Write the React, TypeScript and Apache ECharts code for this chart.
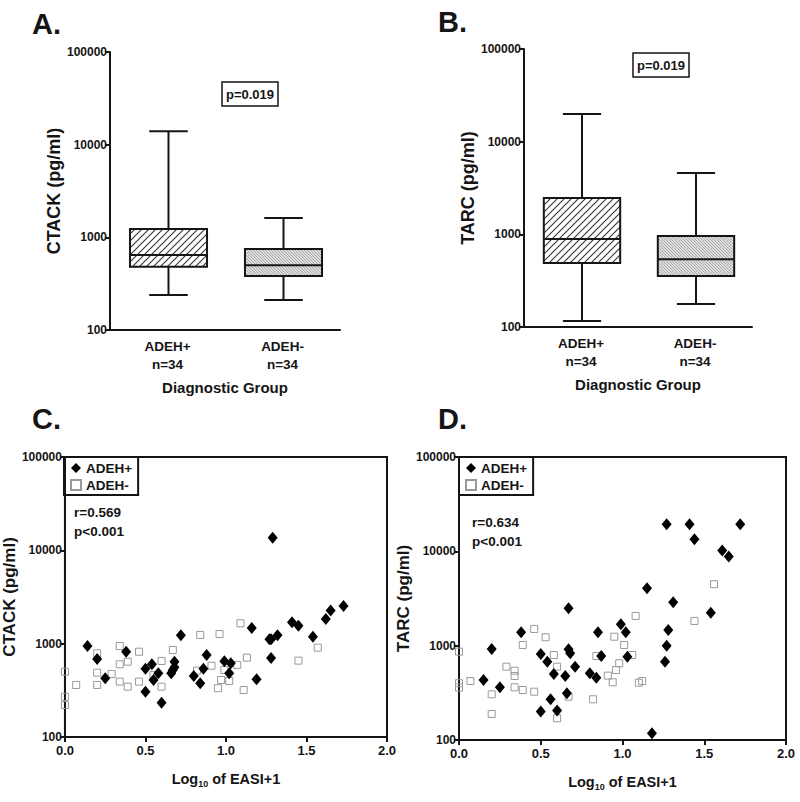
import React, { useEffect, useRef } from 'react';
import * as echarts from 'echarts';

const FONT = '"Liberation Sans", Arial, sans-serif';
const INK = '#151515';

// Box plot groups and values: [min, q1, median, q3, max]
const groups = ['ADEH+\nn=34', 'ADEH-\nn=34'];
const ctackBox = [
  [238, 480, 645, 1230, 14000],
  [211, 383, 500, 750, 1620],
];
const tarcBox = [
  [116, 490, 890, 2460, 19900],
  [177, 355, 540, 960, 4580],
];
const logTicks = [100, 1000, 10000, 100000];
const pText = 'p=0.019';

// Scatter: [log10(EASI+1), concentration pg/ml]
const ctackAdehPos = [
  [0.14, 944], [0.2, 686], [0.25, 426], [0.38, 820], [0.5, 540], [0.5, 306], [0.54, 601], [0.55, 408],
  [0.58, 482], [0.6, 233], [0.66, 482], [0.67, 522], [0.68, 641], [0.68, 560], [0.72, 1230], [0.8, 450],
  [0.84, 376], [0.86, 540], [0.88, 757], [0.99, 647], [1.02, 482], [1.03, 617], [1.16, 1473], [1.19, 415],
  [1.27, 1114], [1.28, 1114], [1.28, 703], [1.32, 1230], [1.29, 13680], [1.41, 1695], [1.45, 1560],
  [1.54, 1188], [1.62, 1840], [1.65, 2260], [1.73, 2535],
];
const ctackAdehNeg = [
  [0, 501], [0, 270], [0, 220], [0.07, 361], [0.2, 788], [0.2, 489], [0.2, 361], [0.29, 473], [0.34, 944],
  [0.34, 601], [0.34, 392], [0.39, 641], [0.39, 346], [0.46, 820], [0.46, 392], [0.55, 461], [0.6, 653],
  [0.6, 346], [0.67, 856], [0.82, 514], [0.84, 1240], [0.91, 581], [0.95, 333], [0.96, 1270], [0.97, 408],
  [0.99, 522], [1.02, 398], [1.07, 592], [1.09, 1653], [1.11, 319], [1.13, 708], [1.45, 658], [1.57, 906],
];
const tarcAdehPos = [
  [0.15, 433], [0.2, 923], [0.25, 362], [0.38, 1387], [0.5, 817], [0.5, 200], [0.54, 676], [0.56, 270],
  [0.58, 501], [0.6, 205], [0.65, 477], [0.66, 313], [0.67, 2490], [0.67, 916], [0.68, 830], [0.71, 599],
  [0.8, 509], [0.84, 458], [0.85, 1387], [0.87, 777], [0.99, 1686], [1.02, 1387], [1.03, 764], [1.15, 4060],
  [1.18, 118], [1.27, 19400], [1.26, 676], [1.27, 1000], [1.28, 1467], [1.31, 2885], [1.41, 19400],
  [1.44, 13430], [1.54, 2239], [1.61, 10180], [1.65, 8790], [1.72, 19400],
];
const tarcAdehNeg = [
  [0, 864], [0, 400], [0, 360], [0.07, 422], [0.2, 305], [0.2, 189], [0.29, 599], [0.34, 543], [0.34, 477],
  [0.34, 362], [0.39, 1017], [0.39, 339], [0.46, 1503], [0.46, 325], [0.53, 1227], [0.58, 796], [0.6, 599],
  [0.6, 170], [0.67, 288], [0.82, 270], [0.84, 777], [0.91, 481], [0.94, 409], [0.95, 1245], [0.96, 552],
  [0.98, 651], [1.01, 1017], [1.06, 796], [1.08, 2065], [1.1, 405], [1.12, 422], [1.44, 1828], [1.56, 4480],
];
const ctackStats = 'r=0.569\np<0.001';
const tarcStats = 'r=0.634\np<0.001';

function makeHatch(bg: string, fg: string, step: number, dir: 1 | -1, lw: number) {
  const c = document.createElement('canvas');
  c.width = step;
  c.height = step;
  const ctx = c.getContext('2d')!;
  ctx.fillStyle = bg;
  ctx.fillRect(0, 0, step, step);
  ctx.strokeStyle = fg;
  ctx.lineWidth = lw;
  ctx.beginPath();
  const s = step;
  const seg = (x1: number, y1: number, x2: number, y2: number) => {
    if (dir === 1) {
      ctx.moveTo(x1, y1);
      ctx.lineTo(x2, y2);
    } else {
      ctx.moveTo(s - x1, y1);
      ctx.lineTo(s - x2, y2);
    }
  };
  seg(0, s, s, 0);
  seg(-1, 1, 1, -1);
  seg(s - 1, s + 1, s + 1, s - 1);
  ctx.stroke();
  return c;
}

export default function App() {
  const ref = useRef<HTMLDivElement>(null);
  useEffect(() => {
    if (!ref.current) return;
    const chart = echarts.init(ref.current, undefined, { renderer: 'svg' });
    const patterns = [
      { image: makeHatch('#ffffff', '#333333', 7, 1, 1.1), repeat: 'repeat' },
      { image: makeHatch('#dedede', '#9a9a9a', 3, -1, 0.8), repeat: 'repeat' },
    ];

    const boxRender = (params: any, api: any) => {
      const c = api.value(0);
      const vMin = api.value(1), vQ1 = api.value(2), vMed = api.value(3), vQ3 = api.value(4), vMax = api.value(5);
      const pMin = api.coord([c, vMin]);
      const pQ1 = api.coord([c, vQ1]);
      const pMed = api.coord([c, vMed]);
      const pQ3 = api.coord([c, vQ3]);
      const pMax = api.coord([c, vMax]);
      const band = api.size([1, 0])[0];
      const bw = band * 0.67;
      const cw = bw * 0.5;
      const x = pMed[0] + 1;
      const ls = { stroke: INK, lineWidth: 2 };
      return {
        type: 'group',
        children: [
          { type: 'line', shape: { x1: x, y1: pMax[1], x2: x, y2: pQ3[1] }, style: ls },
          { type: 'line', shape: { x1: x, y1: pQ1[1], x2: x, y2: pMin[1] }, style: ls },
          { type: 'line', shape: { x1: x - cw / 2, y1: pMax[1], x2: x + cw / 2, y2: pMax[1] }, style: ls },
          { type: 'line', shape: { x1: x - cw / 2, y1: pMin[1], x2: x + cw / 2, y2: pMin[1] }, style: ls },
          {
            type: 'rect',
            shape: { x: x - bw / 2, y: pQ3[1], width: bw, height: pQ1[1] - pQ3[1] },
            style: { fill: patterns[params.dataIndex], stroke: INK, lineWidth: 2 },
          },
          { type: 'line', shape: { x1: x - bw / 2, y1: pMed[1], x2: x + bw / 2, y2: pMed[1] }, style: ls },
        ],
      };
    };

    const logFmt = (v: number) => String(Math.round(v));
    const lineStyle = { color: INK, width: 2 };

    const catAxis = (gridIndex: number) => ({
      type: 'category',
      gridIndex,
      data: groups,
      axisLine: { lineStyle },
      axisTick: { alignWithLabel: true, length: 5, lineStyle },
      axisLabel: { fontSize: 13.5, fontWeight: 'bold', color: INK, lineHeight: 18, margin: 7, fontFamily: FONT },
      name: 'Diagnostic Group',
      nameLocation: 'middle',
      nameGap: 50,
      nameTextStyle: { fontSize: 15, fontWeight: 'bold', color: INK, fontFamily: FONT },
      splitLine: { show: false },
    });
    const logAxis = (gridIndex: number, name: string, gap: number, fs: number, labelSize: number) => ({
      type: 'log',
      logBase: 10,
      gridIndex,
      min: logTicks[0],
      max: logTicks[logTicks.length - 1],
      axisLine: { show: true, lineStyle },
      axisTick: { show: true, length: 5, lineStyle },
      minorTick: { show: false },
      splitLine: { show: false },
      axisLabel: { fontSize: labelSize, fontWeight: 'bold', color: INK, margin: 3, formatter: logFmt, fontFamily: FONT },
      name,
      nameLocation: 'middle',
      nameGap: gap,
      nameTextStyle: { fontSize: fs, fontWeight: 'bold', color: INK, fontFamily: FONT },
    });
    const valAxis = (gridIndex: number) => ({
      type: 'value',
      gridIndex,
      min: 0,
      max: 2,
      interval: 0.5,
      axisLine: { show: true, lineStyle },
      axisTick: { show: true, length: 5, lineStyle },
      splitLine: { show: false },
      axisLabel: {
        fontSize: 13, fontWeight: 'bold', color: INK, margin: 7, fontFamily: FONT,
        formatter: (v: number) => v.toFixed(1),
      },
      name: '{m|Log}{s|10}{m| of EASI+1}',
      nameLocation: 'middle',
      nameGap: 33,
      nameTextStyle: {
        fontFamily: FONT,
        rich: {
          m: { fontSize: 14.5, fontWeight: 'bold', color: INK, fontFamily: FONT, lineHeight: 18 },
          s: { fontSize: 9, fontWeight: 'bold', color: INK, fontFamily: FONT, verticalAlign: 'bottom', lineHeight: 12 },
        },
      },
    });

    const legend = (left: number) => ({
      left,
      top: 457,
      orient: 'vertical',
      data: ['ADEH+', 'ADEH-'],
      borderColor: INK,
      borderWidth: 2,
      padding: [4, 6, 3, 6],
      itemGap: 3,
      itemWidth: 10,
      itemHeight: 10,
      selectedMode: false,
      textStyle: { fontSize: 13.5, fontWeight: 'bold', color: INK, fontFamily: FONT },
    });

    const titleText = (text: string, left: number, top: number, fontSize: number) => ({
      text,
      left,
      top,
      padding: 0,
      textStyle: { fontSize, fontWeight: 'bold', color: INK, fontFamily: FONT, lineHeight: Math.round(fontSize * 1.3) },
    });
    const pBox = (left: number, top: number) => ({
      text: pText,
      left,
      top,
      borderColor: INK,
      borderWidth: 1.5,
      padding: [6, 4, 5, 4],
      textStyle: { fontSize: 13, fontWeight: 'bold', color: INK, fontFamily: FONT },
    });

    const posStyle = { color: '#000', opacity: 1 };
    const negStyle = { color: 'rgba(255,255,255,0)', borderColor: '#999', borderWidth: 1, opacity: 1 };

    chart.setOption({
      animation: false,
      textStyle: { fontFamily: FONT },
      title: [
        titleText('A.', 32, 5, 29),
        titleText('B.', 438, 3, 29),
        titleText('C.', 32, 400, 29),
        titleText('D.', 438, 400, 29),
        pBox(222, 82),
        pBox(633, 53),
        { ...titleText(ctackStats, 74, 503, 13), textStyle: { fontSize: 13.5, fontWeight: 'bold', color: INK, fontFamily: FONT, lineHeight: 19 } },
        { ...titleText(tarcStats, 472, 513, 13), textStyle: { fontSize: 13.5, fontWeight: 'bold', color: INK, fontFamily: FONT, lineHeight: 19 } },
      ],
      legend: [legend(64), legend(459)],
      grid: [
        { left: 110, top: 52, width: 230, height: 278 },
        { left: 524, top: 49, width: 228, height: 278 },
        { left: 64, top: 457, width: 323, height: 280, show: true, borderColor: INK, borderWidth: 2 },
        { left: 459, top: 457, width: 327, height: 283, show: true, borderColor: INK, borderWidth: 2 },
      ],
      xAxis: [catAxis(0), catAxis(1), valAxis(2), valAxis(3)],
      yAxis: [
        logAxis(0, 'CTACK (pg/ml)', 45, 18, 12),
        logAxis(1, 'TARC (pg/ml)', 43, 18, 12),
        logAxis(2, 'CTACK (pg/ml)', 37, 17, 12),
        logAxis(3, 'TARC (pg/ml)', 36, 17, 12),
      ],
      series: [
        {
          type: 'custom', name: 'CTACK box', xAxisIndex: 0, yAxisIndex: 0,
          renderItem: boxRender, encode: { x: 0, y: [1, 2, 3, 4, 5] },
          data: ctackBox.map((b, i) => [i, ...b]),
        },
        {
          type: 'custom', name: 'TARC box', xAxisIndex: 1, yAxisIndex: 1,
          renderItem: boxRender, encode: { x: 0, y: [1, 2, 3, 4, 5] },
          data: tarcBox.map((b, i) => [i, ...b]),
        },
        {
          type: 'scatter', name: 'ADEH-', xAxisIndex: 2, yAxisIndex: 2, symbol: 'rect', symbolSize: 7,
          itemStyle: negStyle, data: ctackAdehNeg, z: 2,
        },
        {
          type: 'scatter', name: 'ADEH+', xAxisIndex: 2, yAxisIndex: 2, symbol: 'diamond', symbolSize: [10, 12],
          itemStyle: posStyle, data: ctackAdehPos, z: 3,
        },
        {
          type: 'scatter', name: 'ADEH-', xAxisIndex: 3, yAxisIndex: 3, symbol: 'rect', symbolSize: 7,
          itemStyle: negStyle, data: tarcAdehNeg, z: 2,
        },
        {
          type: 'scatter', name: 'ADEH+', xAxisIndex: 3, yAxisIndex: 3, symbol: 'diamond', symbolSize: [10, 12],
          itemStyle: posStyle, data: tarcAdehPos, z: 3,
        },
      ],
    });
    return () => chart.dispose();
  }, []);
  return <div ref={ref} style={{ position: 'fixed', left: 0, top: 0, width: 800, height: 802, background: '#fff' }} />;
}
